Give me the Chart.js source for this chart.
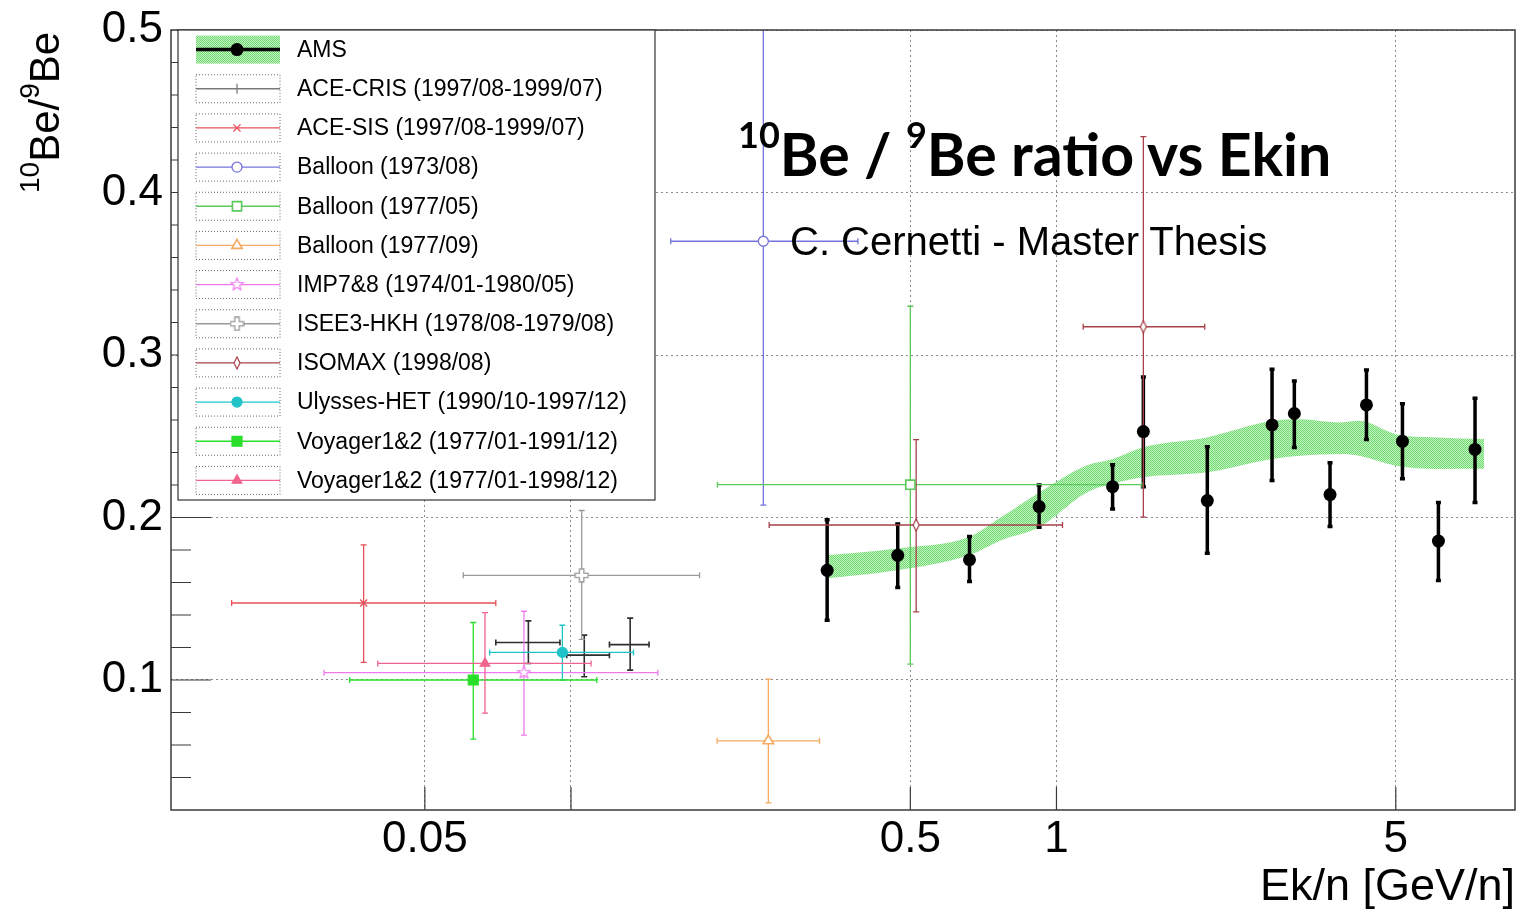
<!DOCTYPE html>
<html lang="en">
<head>
<meta charset="utf-8">
<title>10Be/9Be ratio vs Ekin</title>
<script src="https://cdn.jsdelivr.net/npm/chart.js@4.4.1/dist/chart.umd.min.js"></script>
<style>
  html, body { margin: 0; padding: 0; background: #fff; }
  #wrap { position: relative; width: 1529px; height: 910px; overflow: hidden; }
  #chart { position: absolute; left: 0; top: 0; }
  .txt { position: absolute; white-space: nowrap; color: #000; font-family: 'Liberation Sans', Arial, sans-serif; }
  .sup { position: relative; }
  #ytitle { left: 24px; top: 193px; font-size: 42px; line-height: 42px; transform-origin: 0 0; transform: rotate(-90deg); }
  #ytitle .sup { font-size: 28px; top: -20px; }
  #title { left: 738px; top: 124px; font-family: Lato, sans-serif; font-weight: bold; font-size: 59px; line-height: 59px; }
  #title .sup { font-size: 36px; top: -28px; }
  #subtitle { left: 790px; top: 221px; font-size: 40px; line-height: 40px; }
  #xtitle { right: 14px; top: 862px; font-size: 45px; line-height: 45px; }
</style>
</head>
<body>
<div id="wrap">
  <canvas id="chart" width="1529" height="910"></canvas>
  <div id="ytitle" class="txt"><span class="sup">10</span>Be/<span class="sup">9</span>Be</div>
  <div id="title" class="txt"><span class="sup">10</span>Be / <span class="sup">9</span>Be ratio vs Ekin</div>
  <div id="subtitle" class="txt">C. Cernetti - Master Thesis</div>
  <div id="xtitle" class="txt">Ek/n [GeV/n]</div>
</div>
<script>
// Ek/n in GeV/n, ratio 10Be/9Be

// AMS points (vertical errors only)
const amsE     = [0.337, 0.471, 0.662, 0.921, 1.305, 1.51, 2.045, 2.78, 3.09, 3.66, 4.35, 5.16, 6.12, 7.28];
const amsRatio = [0.1675, 0.1767, 0.174, 0.2067, 0.219, 0.2529, 0.2104, 0.257, 0.264, 0.2141, 0.2693, 0.2469, 0.1855, 0.2419];
const amsLow   = [0.1368, 0.157, 0.1606, 0.194, 0.2053, 0.219, 0.178, 0.2227, 0.2431, 0.1945, 0.248, 0.2238, 0.1613, 0.2092];
const amsHigh  = [0.1986, 0.196, 0.1883, 0.220, 0.2325, 0.2865, 0.2436, 0.2912, 0.284, 0.2337, 0.2908, 0.270, 0.2092, 0.2734];

// AMS systematic band
const bandE    = [0.337, 0.47, 0.66, 0.767, 0.92, 1.153, 1.305, 1.51, 2.04, 2.78, 3.18, 3.85, 4.2, 5.0, 6.1, 7.6];
const bandLow  = [0.1626, 0.1675, 0.1767, 0.1859, 0.194, 0.2153, 0.2207, 0.2247, 0.2278, 0.236, 0.238, 0.2391, 0.238, 0.2319, 0.2299, 0.230];
const bandHigh = [0.1767, 0.181, 0.188, 0.200, 0.2153, 0.232, 0.236, 0.2433, 0.2493, 0.2595, 0.2605, 0.2585, 0.2595, 0.2513, 0.2493, 0.2483];

// other experiments, one row per point: [E, E low, E high, ratio, ratio low, ratio high]
const aceCris     = [[0.0817, 0.070, 0.0949, 0.1231, 0.1102, 0.1364],
                     [0.1065, 0.098, 0.120, 0.1153, 0.102, 0.1276],
                     [0.1324, 0.120, 0.1448, 0.1218, 0.1061, 0.1381]];
const aceSis      = [[0.0374, 0.020, 0.070, 0.1474, 0.1109, 0.1832]];
const balloon7308 = [[0.249, 0.1605, 0.39, 0.37, 0.2076, 0.53]];
const balloon7705 = [[0.5, 0.2003, 1.5, 0.2202, 0.1098, 0.33]];
const balloon7709 = [[0.255, 0.2, 0.325, 0.0626, 0.0244, 0.1006]];
const imp78       = [[0.08, 0.031, 0.151, 0.1045, 0.0661, 0.1423]];
const isee3       = [[0.1052, 0.06, 0.184, 0.1644, 0.125, 0.2043]];
const isomax      = [[0.514, 0.256, 1.029, 0.1954, 0.1419, 0.2479],
                     [1.51, 1.135, 2.02, 0.3174, 0.2002, 0.4344]];
const ulysses     = [[0.096, 0.068, 0.1345, 0.117, 0.1, 0.1337]];
const voyager91   = [[0.0629, 0.035, 0.113, 0.1, 0.0636, 0.1354]];
const voyager98   = [[0.0665, 0.04, 0.110, 0.1102, 0.0796, 0.1415]];

// axes
const xTicks = [0.05, 0.1, 0.5, 1, 5];
const xTickLabels = ['0.05', '', '0.5', '1', '5'];
const yTicks = [0.1, 0.2, 0.3, 0.4, 0.5];
const yTickLabels = ['0.1', '0.2', '0.3', '0.4', '0.5'];

Chart.defaults.font.family = "'Liberation Sans', Arial, sans-serif";

const canvas = document.getElementById('chart');
const ctx0 = canvas.getContext('2d');

function makePattern() {
  const c = document.createElement('canvas');
  c.width = 2; c.height = 2;
  const g = c.getContext('2d');
  g.fillStyle = '#c2f4c2'; g.fillRect(0, 0, 2, 2);
  g.fillStyle = '#72d972'; g.fillRect(0, 0, 1, 1); g.fillRect(1, 1, 1, 1);
  return ctx0.createPattern(c, 'repeat');
}
const bandFill = makePattern();

function marker(size, draw) {
  const c = document.createElement('canvas');
  c.width = size; c.height = size;
  draw(c.getContext('2d'), size / 2);
  return c;
}
// open cross (ISEE3)
const openCross = marker(15, (g, c) => {
  const a = 2.2, l = 6.5;
  g.beginPath();
  g.moveTo(c - a, c - l); g.lineTo(c + a, c - l); g.lineTo(c + a, c - a); g.lineTo(c + l, c - a);
  g.lineTo(c + l, c + a); g.lineTo(c + a, c + a); g.lineTo(c + a, c + l); g.lineTo(c - a, c + l);
  g.lineTo(c - a, c + a); g.lineTo(c - l, c + a); g.lineTo(c - l, c - a); g.lineTo(c - a, c - a);
  g.closePath();
  g.fillStyle = '#fff'; g.fill();
  g.strokeStyle = '#9a9a9a'; g.lineWidth = 1.3; g.stroke();
});
// open star (IMP7&8)
const openStar = marker(15, (g, c) => {
  g.beginPath();
  for (let i = 0; i < 10; i++) {
    const r = i % 2 ? 2.8 : 6.5;
    const ang = -Math.PI / 2 + i * Math.PI / 5;
    g.lineTo(c + r * Math.cos(ang), c + r * Math.sin(ang));
  }
  g.closePath();
  g.fillStyle = '#fff'; g.fill();
  g.strokeStyle = '#ee7bee'; g.lineWidth = 1.2; g.stroke();
});
// narrow open diamond (ISOMAX)
const openDiamond = marker(14, (g, c) => {
  g.beginPath();
  g.moveTo(c, c - 6); g.lineTo(c + 3, c); g.lineTo(c, c + 6); g.lineTo(c - 3, c);
  g.closePath();
  g.fillStyle = '#fff'; g.fill();
  g.strokeStyle = '#a8404a'; g.lineWidth = 1.2; g.stroke();
});

function rows(arr) {
  return arr.map(r => ({ x: r[0], xLo: r[1], xHi: r[2], y: r[3], yLo: r[4], yHi: r[5] }));
}

function series(label, rowsArr, color, style) {
  return Object.assign({
    label,
    data: rows(rowsArr),
    showLine: false,
    errBars: true,
    errColor: color,
    legendColor: color,
    borderColor: color,
    pointBorderColor: color,
    pointBackgroundColor: '#fff',
    pointBorderWidth: 1.3,
    pointRadius: 5
  }, style);
}

const amsPoints = amsE.map((e, i) => ({ x: e, y: amsRatio[i], yLo: amsLow[i], yHi: amsHigh[i] }));

const datasets = [
  {
    data: bandE.map((e, i) => ({ x: e, y: bandLow[i] })),
    borderColor: 'transparent', borderWidth: 0, pointRadius: 0,
    cubicInterpolationMode: 'monotone', fill: false
  },
  {
    data: bandE.map((e, i) => ({ x: e, y: bandHigh[i] })),
    borderColor: 'transparent', borderWidth: 0, pointRadius: 0,
    cubicInterpolationMode: 'monotone', fill: '-1', backgroundColor: bandFill
  },
  {
    label: 'AMS', data: amsPoints, showLine: false, isAms: true,
    errBars: true, errColor: '#000', errWidth: 3.5, capSize: 2.5,
    borderColor: '#000', pointBorderColor: '#000', pointBackgroundColor: '#000',
    pointRadius: 6.5, pointBorderWidth: 0
  },
  series('ACE-CRIS (1997/08-1999/07)', aceCris, '#2e2e2e', { legendColor: '#7a7a7a', pointRadius: 0, errWidth: 1.6 }),
  series('ACE-SIS (1997/08-1999/07)', aceSis, '#e8505a', { pointStyle: 'crossRot', pointRadius: 5 }),
  series('Balloon (1973/08)', balloon7308, '#7474dc', { pointStyle: 'circle', pointRadius: 5 }),
  series('Balloon (1977/05)', balloon7705, '#5cc85c', { pointStyle: 'rect', pointRadius: 6.5, pointBorderWidth: 1.6 }),
  series('Balloon (1977/09)', balloon7709, '#f4aa62', { pointStyle: 'triangle', pointRadius: 6, pointBorderWidth: 1.6 }),
  series('IMP7&8 (1974/01-1980/05)', imp78, '#ee7bee', { pointStyle: openStar }),
  series('ISEE3-HKH (1978/08-1979/08)', isee3, '#9a9a9a', { pointStyle: openCross }),
  series('ISOMAX (1998/08)', isomax, '#a8404a', { pointStyle: openDiamond }),
  series('Ulysses-HET (1990/10-1997/12)', ulysses, '#20c4c8', { pointStyle: 'circle', pointRadius: 5, pointBackgroundColor: '#20c4c8' }),
  series('Voyager1&2 (1977/01-1991/12)', voyager91, '#2adf2a', { pointStyle: 'rect', pointRadius: 7, pointBackgroundColor: '#2adf2a' }),
  series('Voyager1&2 (1977/01-1998/12)', voyager98, '#f0648e', { pointStyle: 'triangle', pointRadius: 5.5, pointBackgroundColor: '#f0648e' })
];

// error bars, drawn under the markers
const errorBars = {
  id: 'errorBars',
  beforeDatasetsDraw(chart) {
    const { ctx, chartArea: a, scales: { x, y } } = chart;
    ctx.save();
    ctx.beginPath();
    ctx.rect(a.left, a.top, a.right - a.left, a.bottom - a.top);
    ctx.clip();
    chart.data.datasets.forEach(ds => {
      if (!ds.errBars) return;
      const cap = ds.capSize || 3;
      ctx.strokeStyle = ds.errColor;
      ctx.lineWidth = ds.errWidth || 1.3;
      ds.data.forEach(p => {
        const px = x.getPixelForValue(p.x), py = y.getPixelForValue(p.y);
        ctx.beginPath();
        if (p.xLo != null) {
          const l = x.getPixelForValue(p.xLo), r = x.getPixelForValue(p.xHi);
          ctx.moveTo(l, py); ctx.lineTo(r, py);
          ctx.moveTo(l, py - cap); ctx.lineTo(l, py + cap);
          ctx.moveTo(r, py - cap); ctx.lineTo(r, py + cap);
        }
        const t = y.getPixelForValue(p.yHi), b = y.getPixelForValue(p.yLo);
        ctx.moveTo(px, t); ctx.lineTo(px, b);
        ctx.moveTo(px - cap, t); ctx.lineTo(px + cap, t);
        ctx.moveTo(px - cap, b); ctx.lineTo(px + cap, b);
        ctx.stroke();
      });
    });
    ctx.restore();
  }
};

// frame and inward tick marks
const frameTicks = {
  id: 'frameTicks',
  afterDatasetsDraw(chart) {
    const { ctx, chartArea: a, scales: { x, y } } = chart;
    ctx.save();
    ctx.strokeStyle = '#3a3a3a';
    ctx.lineWidth = 1.5;
    ctx.strokeRect(a.left, a.top, a.right - a.left, a.bottom - a.top);
    ctx.lineWidth = 1.2;
    ctx.beginPath();
    x.ticks.forEach(t => {
      const px = x.getPixelForValue(t.value);
      ctx.moveTo(px, a.bottom); ctx.lineTo(px, a.bottom - 23);
    });
    for (let k = 2; k <= 24; k++) {
      const py = y.getPixelForValue(k / 50);
      ctx.moveTo(a.left, py); ctx.lineTo(a.left + (k % 5 === 0 ? 40 : 20), py);
    }
    ctx.stroke();
    ctx.restore();
  }
};

// ROOT-style legend box in the upper left
const legendBox = {
  id: 'legendBox',
  afterDraw(chart) {
    const ctx = chart.ctx;
    const top = chart.chartArea.top;
    const box = { left: 178, top, right: 655, bottom: 500 };
    const items = chart.data.datasets.filter(ds => ds.label);
    const rowH = (box.bottom - box.top) / items.length;
    const sx0 = 196, sx1 = 280, sxm = 237;
    ctx.save();
    ctx.fillStyle = '#fff';
    ctx.fillRect(box.left, box.top, box.right - box.left, box.bottom - box.top);
    ctx.strokeStyle = '#333';
    ctx.lineWidth = 1.2;
    ctx.strokeRect(box.left, box.top, box.right - box.left, box.bottom - box.top);
    ctx.font = "23px 'Liberation Sans', Arial, sans-serif";
    ctx.textBaseline = 'middle';
    items.forEach((ds, i) => {
      const cy = box.top + rowH * (i + 0.5);
      if (ds.isAms) {
        ctx.fillStyle = bandFill;
        ctx.fillRect(sx0, cy - 14, sx1 - sx0, 28);
        ctx.strokeStyle = '#000'; ctx.lineWidth = 3.5;
        ctx.beginPath(); ctx.moveTo(sx0, cy); ctx.lineTo(sx1, cy); ctx.stroke();
        ctx.fillStyle = '#000';
        ctx.beginPath(); ctx.arc(sxm, cy, 6.5, 0, Math.PI * 2); ctx.fill();
      } else {
        ctx.strokeStyle = '#666'; ctx.lineWidth = 1;
        ctx.setLineDash([1, 2]);
        ctx.strokeRect(sx0, cy - 14, sx1 - sx0, 28);
        ctx.setLineDash([]);
        ctx.strokeStyle = ds.legendColor; ctx.lineWidth = 1.3;
        ctx.beginPath(); ctx.moveTo(sx0, cy); ctx.lineTo(sx1, cy); ctx.stroke();
        if (!ds.pointRadius) {
          ctx.beginPath(); ctx.moveTo(sxm, cy - 5); ctx.lineTo(sxm, cy + 5); ctx.stroke();
        } else {
          ctx.fillStyle = ds.pointBackgroundColor;
          ctx.strokeStyle = ds.pointBorderColor;
          ctx.lineWidth = ds.pointBorderWidth;
          Chart.helpers.drawPoint(ctx, {
            pointStyle: ds.pointStyle, radius: ds.pointRadius,
            borderWidth: ds.pointBorderWidth, rotation: 0
          }, sxm, cy);
        }
      }
      ctx.fillStyle = '#000';
      ctx.fillText(ds.label, 297, cy + 1);
    });
    ctx.restore();
  }
};

new Chart(canvas, {
  type: 'line',
  data: { datasets },
  options: {
    responsive: false,
    devicePixelRatio: 1,
    animation: false,
    events: [],
    layout: { padding: { top: 26, right: 14, left: 0, bottom: 0 } },
    plugins: {
      legend: { display: false },
      tooltip: { enabled: false },
      filler: { drawTime: 'beforeDatasetsDraw' }
    },
    scales: {
      x: {
        type: 'logarithmic',
        min: 0.015,
        max: 8.8,
        afterFit: s => { s.height = 100; },
        afterBuildTicks: s => { s.ticks = xTicks.map(v => ({ value: v })); },
        ticks: {
          autoSkip: false, maxRotation: 0, padding: 3, color: '#000',
          font: { size: 44 },
          callback: (v, i) => xTickLabels[i]
        },
        grid: { color: '#8c8c8c', lineWidth: 1, drawTicks: false },
        border: { display: false, dash: [2, 3] }
      },
      y: {
        type: 'linear',
        min: 0.02,
        max: 0.5,
        afterFit: s => { s.width = 171; },
        afterBuildTicks: s => { s.ticks = yTicks.map(v => ({ value: v })); },
        ticks: {
          autoSkip: false, padding: 8, color: '#000',
          font: { size: 44, lineHeight: 1 },
          callback: (v, i) => yTickLabels[i]
        },
        grid: { color: '#8c8c8c', lineWidth: 1, drawTicks: false },
        border: { display: false, dash: [2, 3] }
      }
    }
  },
  plugins: [errorBars, frameTicks, legendBox]
});
</script>
</body>
</html>
